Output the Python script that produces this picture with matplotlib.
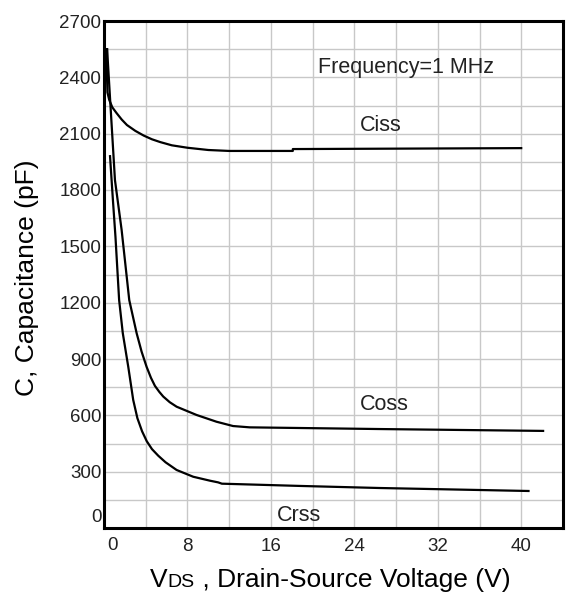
import matplotlib
matplotlib.use("Agg")
import matplotlib.pyplot as plt
from matplotlib.offsetbox import TextArea, HPacker, AnnotationBbox

plt.rcParams['font.family'] = ['Liberation Sans', 'DejaVu Sans']

# ---- data ----
ciss_v = [0.29, 0.29, 0.33, 0.5, 0.8, 1.2, 1.7, 2.2, 3.0, 3.8, 4.6, 5.4, 6.5, 8.0, 10.0, 12.0, 18.1, 18.1, 40.1]
ciss_c = [2556, 2400, 2320, 2280, 2240, 2210, 2175, 2146, 2115, 2090, 2070, 2055, 2038, 2025, 2013, 2008, 2008, 2018, 2023]

coss_v = [0.29, 1.05, 1.69, 2.42, 3.13, 3.6, 4.08, 4.5, 4.88, 5.3, 5.68, 6.3, 6.96, 8.87, 10.78, 12.37, 13.97, 26.4, 42.2]
coss_c = [2556, 1853, 1587, 1214, 1037, 940, 859, 800, 757, 725, 700, 670, 646, 602, 566, 543, 536, 527, 517]

crss_v = [0.57, 0.85, 1.1, 1.45, 1.8, 2.33, 2.8, 3.2, 3.65, 4.1, 4.6, 5.2, 5.9, 6.96, 8.55, 10.15, 10.94, 11.3, 18.8, 26.4, 40.8]
crss_c = [1986, 1750, 1550, 1214, 1038, 857, 682, 585, 515, 462, 420, 385, 350, 309, 273, 252, 243, 236, 224, 213, 197]

x_ticks = [0, 8, 16, 24, 32, 40]
y_ticks = [0, 300, 600, 900, 1200, 1500, 1800, 2100, 2400, 2700]

fig = plt.figure(figsize=(5.72, 5.99), dpi=100)
ax = fig.add_axes([104/572, 71/599, 459/572, 507/599])

ax.set_xlim(0, 44)
ax.set_ylim(0, 2700)

# grid
for gx in range(4, 44, 4):
    ax.axvline(gx, color='#c8c8c8', lw=1.0, zorder=0)
for gy in range(150, 2700, 150):
    ax.axhline(gy, color='#c8c8c8', lw=1.0, zorder=0)

lw = 1.6
for v, c in ((ciss_v, ciss_c), (coss_v, coss_c), (crss_v, crss_c)):
    ax.plot(v, c, color='black', lw=lw, solid_capstyle='butt', solid_joinstyle='round')

ax.set_xticks(x_ticks)
ax.set_yticks(y_ticks)
ax.set_xticklabels([''] + [str(t) for t in x_ticks[1:]])
ax.set_yticklabels([''] + [str(t) for t in y_ticks[1:]])
ax.tick_params(length=0, labelsize=13.5, colors='#222222')
ax.tick_params(axis='x', pad=7)
ax.tick_params(axis='y', pad=2)

# offset "0" labels as in reference
ax.annotate('0', xy=(0, 0), xycoords='data', xytext=(8, -17),
            textcoords='offset pixels', ha='center', va='center', fontsize=13.5, color='#222222',
            annotation_clip=False)
ax.annotate('0', xy=(0, 0), xycoords='data', xytext=(-2, 11),
            textcoords='offset pixels', ha='right', va='center', fontsize=13.5, color='#222222',
            annotation_clip=False)

for s in ax.spines.values():
    s.set_linewidth(2.2)
    s.set_color('black')

# annotations
ax.text(20.5, 2455, 'Frequency=1 MHz', fontsize=15.5, va='center', ha='left', color='#222222')
ax.text(24.5, 2146, 'Ciss', fontsize=15.5, va='center', ha='left', color='#222222')
ax.text(24.5, 660, 'Coss', fontsize=15.5, va='center', ha='left', color='#222222')
ax.text(16.6, 69, 'Crss', fontsize=15.5, va='center', ha='left', color='#222222')

# y label
fig.text(27/572, 1 - 278/599, 'C, Capacitance (pF)', rotation=90, fontsize=19,
         ha='center', va='center')

# x label with small "DS"
p = HPacker(children=[TextArea('V', textprops=dict(fontsize=19)),
                      TextArea('DS', textprops=dict(fontsize=14)),
                      TextArea(' , Drain-Source Voltage (V)', textprops=dict(fontsize=19))],
            align='baseline', pad=0, sep=0)
ab = AnnotationBbox(p, (330/572, 19/599), xycoords='figure fraction', frameon=False,
                    box_alignment=(0.5, 0.5), pad=0)
fig.add_artist(ab)

fig.savefig('out.png', dpi=100)
